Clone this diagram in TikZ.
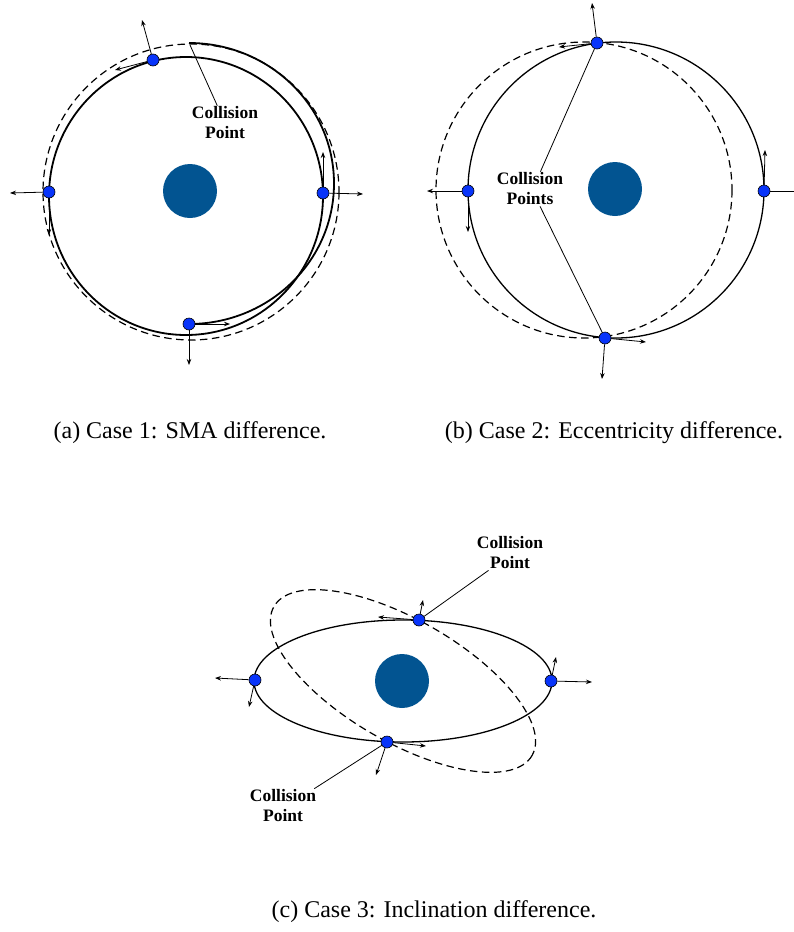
\documentclass[tikz,border=0pt]{standalone}
\usepackage{fontspec}
\newfontfamily\capfont{Liberation Serif}
\usetikzlibrary{arrows.meta}
\definecolor{OrbEarth}{RGB}{2,84,145}
\definecolor{OrbSat}{RGB}{8,52,250}
\tikzset{
  orb/earth/.style={
    circle,
    fill=OrbEarth,
    inner sep=0pt,
    minimum size=54pt
  },
  orb/sat/.style={
    circle,
    draw=black,
    line width=0.6pt,
    fill=OrbSat,
    inner sep=0pt,
    minimum size=12pt
  },
  orb/orbit/.style={draw=black, line width=1.3pt},
  orb/thickorbit/.style={draw=black, line width=1.8pt},
  orb/dashorbit/.style={draw=black, line width=1.2pt, dash pattern=on 7.5pt off 4.5pt},
  orb/arrow/.style={-{Stealth[length=6pt,width=4.5pt]}, line width=0.8pt, draw=black},
  orb/pointer/.style={line width=0.8pt, draw=black},
  orb/label/.style={font=\capfont\fontsize{17.5}{20}\selectfont\bfseries, align=center, inner sep=1pt},
  orb/caption/.style={font=\capfont\fontsize{24}{28}\selectfont, inner sep=0pt}
}

\begin{document}
\begin{tikzpicture}[x=1pt,y=-1pt]
  \useasboundingbox (0,0) rectangle (793,932);

  % (a) SMA difference
  \draw[orb/dashorbit] (191,192) circle[radius=148];
  \draw[orb/thickorbit] (186,196) ellipse[x radius=137, y radius=139];
  \draw[orb/thickorbit] (189,324) arc[start angle=90, end angle=-90, x radius=145, y radius=140.5];
  \node[orb/earth] (aE) at (190,191) {};
  \node[orb/sat] (aTop) at (153,60) {};
  \node[orb/sat] (aLeft) at (49,192) {};
  \node[orb/sat] (aRight) at (323,193) {};
  \node[orb/sat] (aBot) at (189,324) {};
  \coordinate (aTopUp) at (142,20);
  \coordinate (aTopVel) at (115,70);
  \coordinate (aLeftOut) at (10,193);
  \coordinate (aLeftVel) at (49,235);
  \coordinate (aRightOut) at (363,194);
  \coordinate (aRightVel) at (323,152);
  \coordinate (aBotVel) at (230,324);
  \coordinate (aBotOut) at (189,365);
  \draw[orb/arrow] (aTop) -- (aTopUp);
  \draw[orb/arrow] (aTop) -- (aTopVel);
  \draw[orb/arrow] (aLeft) -- (aLeftOut);
  \draw[orb/arrow] (aLeft) -- (aLeftVel);
  \draw[orb/arrow] (aRight) -- (aRightOut);
  \draw[orb/arrow] (aRight) -- (aRightVel);
  \draw[orb/arrow] (aBot) -- (aBotVel);
  \draw[orb/arrow] (aBot) -- (aBotOut);
  \node[orb/label] (aLbl) at (225,123) {Collision\\Point};
  \coordinate (aHit) at (190,45);
  \draw[orb/pointer] (aLbl.114) -- (aHit);
  \node[orb/caption] (capA) at (190,433) {(a)\ Case 1: SMA difference.};

  % (b) eccentricity difference
  \draw[orb/dashorbit] (584,190) circle[radius=148];
  \draw[orb/orbit] (616,190) circle[radius=148];
  \node[orb/earth] (bE) at (615,189) {};
  \node[orb/sat] (bTop) at (597,43) {};
  \node[orb/sat] (bLeft) at (468,191) {};
  \node[orb/sat] (bRight) at (764,191) {};
  \node[orb/sat] (bBot) at (605,338) {};
  \coordinate (bTopUp) at (592,3);
  \coordinate (bTopVel) at (559,47);
  \coordinate (bLeftOut) at (427,191);
  \coordinate (bLeftVel) at (468,232);
  \coordinate (bRightOut) at (805,191);
  \coordinate (bRightVel) at (765,150);
  \coordinate (bBotVel) at (646,342);
  \coordinate (bBotOut) at (602,379);
  \draw[orb/arrow] (bTop) -- (bTopUp);
  \draw[orb/arrow] (bTop) -- (bTopVel);
  \draw[orb/arrow] (bLeft) -- (bLeftOut);
  \draw[orb/arrow] (bLeft) -- (bLeftVel);
  \draw[orb/arrow] (bRight) -- (bRightOut);
  \draw[orb/arrow] (bRight) -- (bRightVel);
  \draw[orb/arrow] (bBot) -- (bBotVel);
  \draw[orb/arrow] (bBot) -- (bBotOut);
  \node[orb/label] (bLbl) at (530,189) {Collision\\Points};
  \draw[orb/pointer] (bLbl.59) -- (bTop);
  \draw[orb/pointer] (bLbl.-60) -- (bBot);
  \node[orb/caption] (capB) at (614,433) {(b)\ Case 2: Eccentricity difference.};

  % (c) inclination difference
  \draw[orb/dashorbit, rotate around={-30:(403,681)}] (403,681) ellipse[x radius=149, y radius=61];
  \draw[orb/orbit] (403,681) ellipse[x radius=149, y radius=61];
  \node[orb/earth] (cE) at (402,681) {};
  \node[orb/sat] (cTop) at (419,620) {};
  \node[orb/sat] (cLeft) at (255,680) {};
  \node[orb/sat] (cRight) at (551,681) {};
  \node[orb/sat] (cBot) at (387,742) {};
  \coordinate (cTopVel) at (378,617);
  \coordinate (cTopUp) at (423,600);
  \coordinate (cLeftOut) at (215,678);
  \coordinate (cLeftVel) at (249,707);
  \coordinate (cRightOut) at (592,682);
  \coordinate (cRightVel) at (556,657);
  \coordinate (cBotVel) at (426,746);
  \coordinate (cBotOut) at (376,775);
  \draw[orb/arrow] (cTop) -- (cTopVel);
  \draw[orb/arrow] (cTop) -- (cTopUp);
  \draw[orb/arrow] (cLeft) -- (cLeftOut);
  \draw[orb/arrow] (cLeft) -- (cLeftVel);
  \draw[orb/arrow] (cRight) -- (cRightOut);
  \draw[orb/arrow] (cRight) -- (cRightVel);
  \draw[orb/arrow] (cBot) -- (cBotVel);
  \draw[orb/arrow] (cBot) -- (cBotOut);
  \node[orb/label] (cLblT) at (510,553) {Collision\\Point};
  \node[orb/label] (cLblB) at (283,806) {Collision\\Point};
  \draw[orb/pointer] (cLblT.219) -- (cTop);
  \draw[orb/pointer] (cLblB.29) -- (cBot);
  \node[orb/caption] (capC) at (434,912) {(c)\ Case 3: Inclination difference.};
\end{tikzpicture}
\end{document}
